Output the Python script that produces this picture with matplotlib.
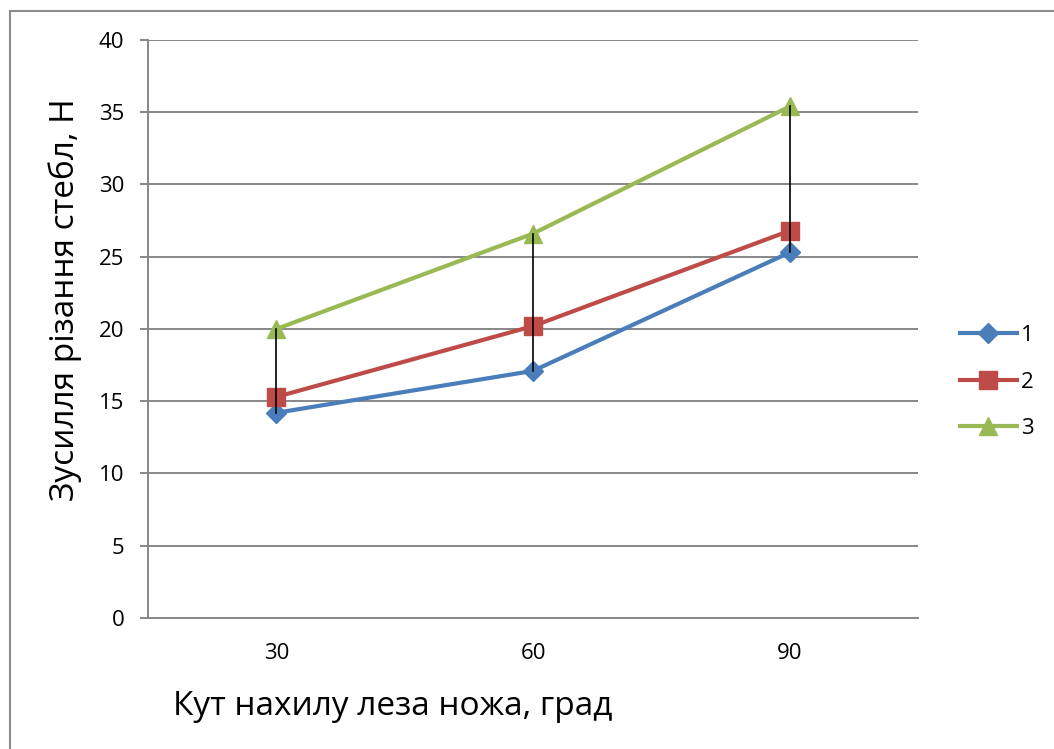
import matplotlib.pyplot as plt
from matplotlib.patches import Rectangle

plt.rcParams['font.family'] = ['Open Sans', 'DejaVu Sans']

categories = ["30", "60", "90"]
series_names = ["1", "2", "3"]
s1 = [14.2, 17.1, 25.3]
s2 = [15.3, 20.2, 26.8]
s3 = [20.0, 26.6, 35.4]

colors = ["#4A7EBB", "#BE4B48", "#98B954"]
markers = ["D", "s", "^"]
msizes = [10, 13, 13]

fig = plt.figure(figsize=(10.54, 7.49), dpi=100)
ax = fig.add_axes([0.1404, 0.1749, 0.7306, 0.7717])

x = list(range(len(categories)))
grid_c = "#878787"

ax.set_ylim(0, 40)
ax.set_xlim(-0.5, 2.5)
ax.set_yticks(range(0, 41, 5))
ax.yaxis.grid(True, color=grid_c, linewidth=1.4)
ax.set_axisbelow(True)

for vals, c, m, ms, name in zip([s1, s2, s3], colors, markers, msizes, series_names):
    ax.plot(x, vals, color=c, linewidth=3, marker=m, markersize=ms,
            markerfacecolor=c, markeredgecolor=c, label=name, zorder=3)

# high-low lines
for i in x:
    lo = min(s1[i], s2[i], s3[i])
    hi = max(s1[i], s2[i], s3[i])
    ax.plot([i, i], [lo, hi], color="black", linewidth=1.2, zorder=4)

ax.set_xticks(x)
ax.set_xticklabels(categories)
ax.tick_params(axis='x', length=0, pad=18, labelsize=16)
ax.tick_params(axis='y', length=6, width=1.4, color=grid_c, pad=11, labelsize=16)

for s in ['top', 'right']:
    ax.spines[s].set_visible(False)
ax.spines['left'].set_color(grid_c)
ax.spines['bottom'].set_color(grid_c)
ax.spines['left'].set_linewidth(1.4)
ax.spines['bottom'].set_linewidth(1.4)

fig.text(0.062, 0.6, "Зусилля різання стебл, Н", rotation=90, fontsize=24,
         ha='center', va='center')
fig.text(0.373, 0.057, "Кут нахилу леза ножа, град", fontsize=24,
         ha='center', va='center')

leg = ax.legend(loc='center left', bbox_to_anchor=(1.028, 0.408), frameon=False,
                fontsize=16, handlelength=2.6, labelspacing=1.15, handletextpad=0.15)

fig.patches.append(Rectangle((10 / 1054, -0.05), 1.1, 0.05 + (749 - 11) / 749,
                             transform=fig.transFigure, fill=False,
                             edgecolor="#8c8c8c", linewidth=1.5))

fig.savefig("out.png", dpi=100)
